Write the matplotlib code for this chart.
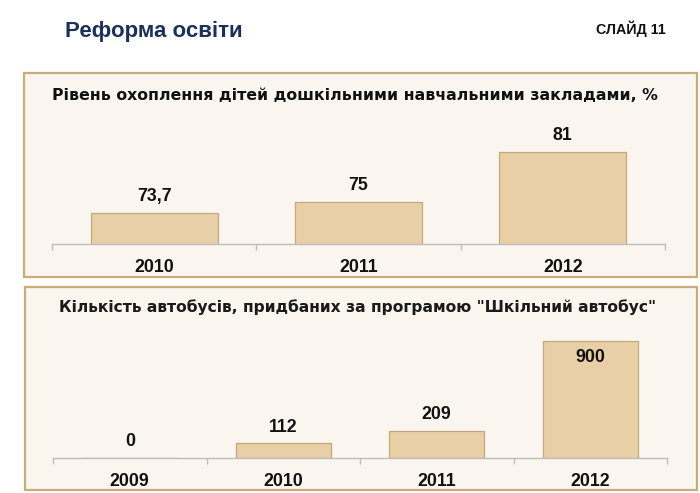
import matplotlib
matplotlib.use("Agg")
import matplotlib.pyplot as plt
from matplotlib.patches import Rectangle

plt.rcParams['font.family'] = ['Liberation Sans', 'DejaVu Sans']

# ---- data ----
page_title = "Реформа освіти"
slide_label = "СЛАЙД 11"

title1 = "Рівень охоплення дітей дошкільними навчальними закладами, %"
years1 = ["2010", "2011", "2012"]
values1 = [73.7, 75, 81]
labels1 = ["73,7", "75", "81"]

title2 = "Кількість автобусів, придбаних за програмою \"Шкільний автобус\""
years2 = ["2009", "2010", "2011", "2012"]
values2 = [0, 112, 209, 900]
labels2 = ["0", "112", "209", "900"]

# ---- style ----
W, H = 700, 493
DPI = 100
fig = plt.figure(figsize=(W / DPI, H / DPI), dpi=DPI)
fig.patch.set_facecolor("white")

PANEL_FILL = "#FAF6EF"
PANEL_EDGE = "#C9AC7C"
BAR_FILL = "#E8CFA6"
BAR_EDGE = "#C1A880"
AXIS_COL = "#BDBDBD"
TITLE_FONT = ['DejaVu Sans', 'Liberation Sans']


def px_rect(x0, y0, x1, y1):
    """pixel box (top-left origin) -> figure fraction [l, b, w, h]"""
    return [x0 / W, 1 - y1 / H, (x1 - x0) / W, (y1 - y0) / H]


def panel(x0, y0, x1, y1):
    l, b, w, h = px_rect(x0, y0, x1, y1)
    fig.patches.append(Rectangle((l, b), w, h, transform=fig.transFigure,
                                 facecolor=PANEL_FILL, edgecolor=PANEL_EDGE,
                                 linewidth=1.6, zorder=-5))


def bar_axes(rect, cats, vals, labs, ylim, inside_idx=()):
    ax = fig.add_axes(px_rect(*rect))
    ax.set_zorder(5)
    ax.set_facecolor("none")
    x = list(range(len(cats)))
    ax.bar(x, vals, width=0.62, color=BAR_FILL, edgecolor=BAR_EDGE,
           linewidth=0.9, zorder=2)
    ax.set_xlim(-0.5, len(cats) - 0.5)
    ax.set_ylim(*ylim)
    for s in ("top", "right", "left"):
        ax.spines[s].set_visible(False)
    ax.spines["bottom"].set_color(AXIS_COL)
    ax.spines["bottom"].set_linewidth(1.0)
    ax.set_yticks([])
    ax.set_xticks(x)
    ax.set_xticklabels(cats, fontsize=12.8, fontweight="bold", color="#111111")
    ax.tick_params(axis="x", which="major", length=0, pad=11)
    ax.set_xticks([i - 0.5 for i in range(len(cats) + 1)], minor=True)
    ax.tick_params(axis="x", which="minor", length=4, width=1.0,
                   color=AXIS_COL, direction="out")
    for i, (v, lab) in enumerate(zip(vals, labs)):
        off = -16 if i in inside_idx else 16
        ax.annotate(lab, (i, v), xytext=(0, off), textcoords="offset pixels",
                    ha="center", va="center", fontsize=12.8,
                    fontweight="bold", color="#111111", zorder=3)
    return ax


# header
fig.text(65 / W, 1 - 31 / H, page_title, fontsize=16, fontweight="bold",
         color="#1B3158", ha="left", va="center")
fig.text(666 / W, 1 - 29 / H, slide_label, fontsize=10.3, fontweight="bold",
         color="#111111", ha="right", va="center")

# panel 1
panel(24, 73, 697, 277)
fig.text(355 / W, 1 - 96 / H, title1, fontsize=11.3, fontweight="bold",
         family=TITLE_FONT, color="#111111", ha="center", va="center")
# axes: baseline at y=244 px, value 70; 8.4 px per unit
y0_1, y1_1 = 70, 85
top1 = 244 - (y1_1 - y0_1) * 8.4
bar_axes((52, top1, 665, 244), years1, values1, labels1, (y0_1, y1_1))

# panel 2
panel(25, 287, 697, 490)
fig.text(358 / W, 1 - 307 / H, title2, fontsize=11.2, fontweight="bold",
         family=TITLE_FONT, color="#1a1a1a", ha="center", va="center")
y0_2, y1_2 = 0, 1000
top2 = 458 - (y1_2 - y0_2) * 0.13
bar_axes((53, top2, 667, 458), years2, values2, labels2, (y0_2, y1_2),
         inside_idx=(3,))

fig.savefig("out.png", dpi=DPI, facecolor="white")
